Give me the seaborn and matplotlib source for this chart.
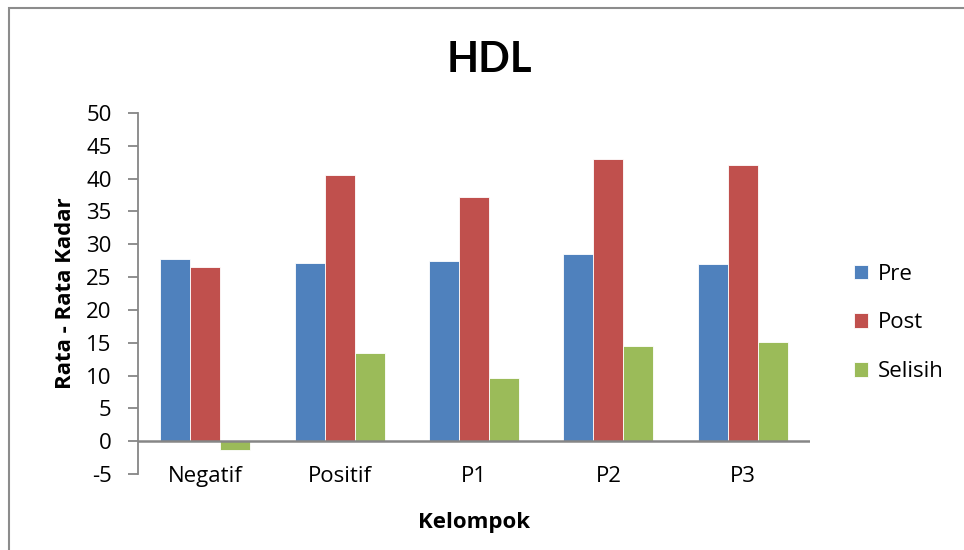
import matplotlib
matplotlib.use("Agg")
import matplotlib.pyplot as plt
from matplotlib.patches import Rectangle
import seaborn as sns
import pandas as pd

# Mean HDL levels per group
groups = ["Negatif", "Positif", "P1", "P2", "P3"]
pre = [27.8, 27.1, 27.5, 28.5, 27.0]
post = [26.5, 40.6, 37.2, 43.0, 42.1]
selisih = [-1.3, 13.5, 9.7, 14.5, 15.1]
series_names = ["Pre", "Post", "Selisih"]
series_colors = ["#4F81BD", "#C0504D", "#9BBB59"]
y_ticks = [-5, 0, 5, 10, 15, 20, 25, 30, 35, 40, 45, 50]

df = pd.DataFrame({
    "Kelompok": groups * 3,
    "Nilai": pre + post + selisih,
    "Seri": [s for s in series_names for _ in groups],
})

sns.set_theme(style="white")
plt.rcParams["font.family"] = ["Open Sans", "DejaVu Sans"]
plt.rcParams["text.color"] = "black"
plt.rcParams["axes.labelcolor"] = "black"
plt.rcParams["xtick.color"] = "black"
plt.rcParams["ytick.color"] = "black"

FS = 16

fig = plt.figure(figsize=(9.64, 5.5), dpi=100)
ax = fig.add_axes([138 / 964, 1 - 474 / 550, (810 - 138) / 964, (474 - 113) / 550])

sns.barplot(data=df, x="Kelompok", y="Nilai", hue="Seri", order=groups,
            hue_order=series_names, palette=series_colors, width=0.67,
            saturation=1, ax=ax, edgecolor="white", linewidth=0.6)

ax.set_xlim(-0.5, len(groups) - 0.5)
ax.set_ylim(-5, 50)
ax.set_yticks(y_ticks)
ax.set_yticklabels([str(t) for t in y_ticks], fontsize=FS)
ax.tick_params(axis="y", direction="out", length=7, width=1.3, color="#868686",
               labelcolor="black", pad=12, left=True)
ax.tick_params(axis="x", length=0, labelsize=FS, labelcolor="black", pad=-6)

for side in ["top", "right", "bottom"]:
    ax.spines[side].set_visible(False)
ax.spines["left"].set_color("#868686")
ax.spines["left"].set_linewidth(1.3)
ax.axhline(0, color="#868686", linewidth=1.8, zorder=3)

ax.set_xlabel("Kelompok", fontsize=FS, fontweight="bold", labelpad=18)
ax.set_ylabel("Rata - Rata Kadar", fontsize=FS, fontweight="bold", labelpad=7)

fig.text(489 / 964, 1 - 60 / 550, "HDL", ha="center", va="center",
         fontsize=30, fontweight="bold", family=["Lato", "DejaVu Sans"])

handles, labels = ax.get_legend_handles_labels()
ax.legend(handles, labels, loc="center left", bbox_to_anchor=(834 / 964, 1 - 323 / 550),
          bbox_transform=fig.transFigure, frameon=False, fontsize=FS,
          handlelength=0.62, handleheight=0.62, handletextpad=0.45, labelspacing=1.25)

# outer chart-area frame
fig.patches.append(Rectangle((9 / 964, -0.05), 1.2, 1 - 7.5 / 550 + 0.05,
                             transform=fig.transFigure, fill=False,
                             edgecolor="#8c8c8c", linewidth=1.5))

fig.savefig("out.png", dpi=100)
